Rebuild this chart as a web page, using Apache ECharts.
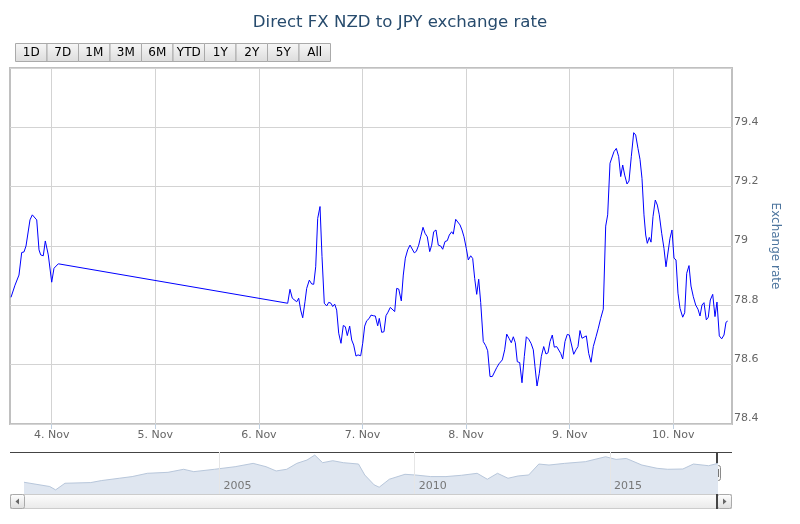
<!DOCTYPE html>
<html><head><meta charset="utf-8">
<script src="https://cdn.jsdelivr.net/npm/echarts@6/dist/echarts.min.js"></script>
<style>html,body{margin:0;padding:0;background:#fff}#c{width:800px;height:524px}</style>
</head><body><div id="c"></div>
<script>
// ---------- data ----------
const titleText = 'Direct FX NZD to JPY exchange rate';
const yAxisTitle = 'Exchange rate';
const rangeButtons = ['1D', '7D', '1M', '3M', '6M', 'YTD', '1Y', '2Y', '5Y', 'All'];
// x values are hours after 4 Nov 00:00
const dayTicks = [0, 24, 48, 72, 96, 120, 144];
const dayLabels = ['4. Nov', '5. Nov', '6. Nov', '7. Nov', '8. Nov', '9. Nov', '10. Nov'];
const navYearTicks = [2005, 2010, 2015];
const navYearLabels = ['2005', '2010', '2015'];

const hours = [
  -9.43, -8.50, -8.11, -7.58, -6.95, -6.42, -5.95, -5.03, -4.49, -3.47,
  -2.94, -2.55, -1.95, -1.48, -0.79, 0, 0.53, 1.53,
  54.67, 55.20, 55.74, 56.20, 56.76, 57.22, 57.68, 58.15, 58.68, 59.07,
  59.68, 60.23, 60.70, 61.16, 61.62, 62.16, 62.62, 63.15, 63.71, 64.17,
  64.70, 65.10, 65.56, 66.02, 66.49, 67.02, 67.55, 68.02, 68.48, 69.03,
  69.50, 69.96, 70.49, 70.96, 71.58, 72.05, 72.51, 72.97, 73.51, 73.97,
  74.50, 74.97, 75.52, 75.89, 76.45, 76.98, 77.44, 77.91, 78.44, 78.90,
  79.46, 79.92, 80.39, 80.99, 81.45, 81.92, 82.47, 83.01, 83.47, 84.00,
  84.47, 85.02, 85.48, 86.02, 86.48, 87.01, 87.57, 88.03, 88.49, 89.03,
  89.56, 90.12, 90.58, 91.11, 91.64, 92.11, 92.66, 93.03, 93.59, 94.05,
  94.59, 95.05, 95.51, 96.05, 96.51, 97.07, 97.53, 97.99, 98.46, 98.92,
  99.38, 99.98, 100.54, 101.00, 101.54, 102.07, 102.53, 103.09, 103.62, 104.39,
  104.94, 105.41, 105.94, 106.47, 106.94, 107.40, 107.86, 108.42, 108.95, 109.48,
  109.95, 110.50, 111.04, 111.57, 111.96, 112.43, 112.96, 113.42, 113.98, 114.51,
  114.98, 115.44, 115.97, 116.43, 116.99, 117.45, 117.92, 118.38, 118.91, 119.44,
  119.91, 120.37, 120.93, 121.46, 121.92, 122.39, 122.85, 123.31, 123.85, 124.40,
  124.94, 125.47, 126.10, 126.63, 127.18, 127.78, 128.34, 128.80, 129.34, 129.80,
  130.26, 130.80, 131.35, 131.82, 132.28, 132.74, 133.28, 133.74, 134.27, 134.83,
  135.29, 135.82, 136.29, 136.75, 137.21, 137.61, 137.98, 138.44, 138.84, 139.30,
  139.83, 140.30, 140.76, 141.31, 141.84, 142.31, 142.77, 143.23, 143.70, 144.16,
  144.63, 145.09, 145.56, 146.18, 146.64, 147.11, 147.64, 148.10, 148.64, 149.19,
  149.72, 150.19, 150.65, 151.11, 151.65, 152.11, 152.57, 153.13, 153.66, 154.12,
  154.66, 155.21, 155.75, 156.21, 156.60
];
const rates = [
  78.827, 78.868, 78.863, 78.902, 78.978, 78.980, 79.000, 79.088, 79.105, 79.088,
  78.987, 78.970, 78.967, 79.017, 78.970, 78.878, 78.925, 78.940,
  78.807, 78.854, 78.824, 78.826, 78.812, 78.824, 78.784, 78.758, 78.812, 78.857,
  78.885, 78.872, 78.871, 78.930, 79.093, 79.133, 78.964, 78.807, 78.798, 78.810,
  78.807, 78.796, 78.804, 78.784, 78.706, 78.672, 78.732, 78.728, 78.698, 78.730,
  78.683, 78.666, 78.629, 78.633, 78.630, 78.672, 78.730, 78.748, 78.755, 78.767,
  78.765, 78.764, 78.731, 78.756, 78.709, 78.711, 78.765, 78.777, 78.793, 78.796,
  78.779, 78.857, 78.855, 78.815, 78.902, 78.959, 78.987, 79.003, 79.001, 78.977,
  78.982, 79.003, 79.031, 79.063, 79.043, 79.031, 78.981, 79.003, 79.048, 79.054,
  79.003, 79.000, 78.989, 79.015, 79.018, 79.037, 79.048, 79.040, 79.090, 79.088,
  79.071, 79.054, 79.031, 78.992, 78.953, 78.967, 78.958, 78.891, 78.837, 78.888,
  78.810, 78.678, 78.664, 78.647, 78.560, 78.560, 78.560, 78.590, 78.603, 78.616,
  78.650, 78.703, 78.689, 78.674, 78.694, 78.674, 78.610, 78.607, 78.539, 78.627,
  78.694, 78.686, 78.672, 78.650, 78.593, 78.528, 78.571, 78.627, 78.661, 78.636,
  78.640, 78.678, 78.700, 78.659, 78.661, 78.655, 78.638, 78.619, 78.678, 78.702,
  78.700, 78.697, 78.635, 78.650, 78.661, 78.715, 78.689, 78.694, 78.697, 78.638,
  78.608, 78.661, 78.694, 78.723, 78.756, 78.787, 79.067, 79.105, 79.279, 79.276,
  79.318, 79.329, 79.301, 79.234, 79.273, 79.239, 79.209, 79.219, 79.301, 79.382,
  79.374, 79.329, 79.292, 79.228, 79.105, 79.037, 79.009, 79.029, 79.013, 79.099,
  79.155, 79.138, 79.105, 79.043, 78.992, 78.930, 78.934, 79.026, 79.054, 78.959,
  78.953, 78.841, 78.790, 78.760, 78.775, 78.908, 78.934, 78.865, 78.829, 78.801,
  78.787, 78.764, 78.801, 78.809, 78.751, 78.760, 78.818, 78.837, 78.762, 78.811,
  78.697, 78.687, 78.700, 78.743, 78.747
];

const navYears = [
  1999.99, 2000.65, 2000.80, 2001.04, 2001.70, 2001.97, 2002.43, 2002.76, 2003.15, 2003.68,
  2004.08, 2004.34, 2004.87, 2005.40, 2005.86, 2006.19, 2006.45, 2006.72, 2006.98, 2007.24,
  2007.44, 2007.64, 2007.90, 2008.17, 2008.56, 2008.72, 2008.96, 2009.09, 2009.35, 2009.75,
  2010.01, 2010.41, 2010.80, 2011.20, 2011.60, 2011.86, 2012.12, 2012.39, 2012.65, 2012.92,
  2013.18, 2013.44, 2013.84, 2014.37, 2014.89, 2015.16, 2015.42, 2015.82, 2016.21, 2016.48,
  2016.87, 2017.14, 2017.53, 2017.77
];
const navRates = [
  53.0, 46.1, 40.7, 51.4, 52.5, 55.7, 59.5, 62.2, 67.5, 69.1,
  74.0, 70.2, 74.0, 78.2, 83.6, 78.2, 71.3, 74.0, 83.6, 89.0,
  97.0, 84.7, 87.9, 84.7, 82.5, 64.8, 48.8, 45.0, 57.9, 65.9,
  64.8, 62.2, 62.2, 64.3, 67.5, 57.9, 67.5, 59.5, 63.2, 64.8,
  82.5, 80.9, 83.6, 86.3, 94.3, 90.0, 91.6, 80.9, 75.6, 74.0,
  74.5, 82.5, 79.8, 83.6
];

// ---------- chart ----------
const FONT = 'DejaVu Sans';
const mainData = hours.map((h, i) => [h, rates[i]]);
const navData = navYears.map((y, i) => [y, navRates[i]]);

const grad = (a, b) => new echarts.graphic.LinearGradient(0, 0, 0, 1, [{offset: 0, color: a}, {offset: 1, color: b}]);

const buttonW = 31.5, buttonX0 = 15, buttonY = 43, buttonH = 18;
const buttonGraphics = rangeButtons.map((t, i) => ({
  type: 'group',
  children: [
    {type: 'rect', shape: {x: buttonX0 + i * buttonW + 0.5, y: buttonY + 0.5, width: buttonW, height: buttonH},
     style: {fill: grad('#f7f7f7', '#dcdcdc'), stroke: '#aaaaaa', lineWidth: 1}},
    {type: 'text', x: buttonX0 + i * buttonW + buttonW / 2 + 0.5, y: buttonY + buttonH / 2 + 1,
     style: {text: t, fill: '#000', font: '12px "' + FONT + '"', align: 'center', verticalAlign: 'middle'}}
  ]
}));

const navGraphics = [
  // scrollbar track
  {type: 'rect', shape: {x: 10.5, y: 494.5, width: 721, height: 14},
   style: {fill: grad('#fdfdfd', '#e9e9e9'), stroke: '#cccccc', lineWidth: 1}},
  // left button
  {type: 'rect', shape: {x: 10.5, y: 494.5, width: 14, height: 14, r: 2},
   style: {fill: grad('#ffffff', '#dddddd'), stroke: '#aaaaaa', lineWidth: 1}},
  {type: 'polygon', shape: {points: [[19, 498.5], [19, 504.5], [15.5, 501.5]]}, style: {fill: '#666'}},
  // right button
  {type: 'rect', shape: {x: 717.5, y: 494.5, width: 14, height: 14, r: 2},
   style: {fill: grad('#ffffff', '#dddddd'), stroke: '#aaaaaa', lineWidth: 1}},
  {type: 'polygon', shape: {points: [[723, 498.5], [723, 504.5], [726.5, 501.5]]}, style: {fill: '#666'}},
  // navigator outline
  {type: 'line', shape: {x1: 10, y1: 452.5, x2: 732, y2: 452.5}, style: {stroke: '#444', lineWidth: 1}},
  {type: 'line', shape: {x1: 717, y1: 452, x2: 717, y2: 509}, style: {stroke: '#444', lineWidth: 2}},
  // handle
  {type: 'rect', shape: {x: 713.5, y: 465.5, width: 7, height: 15, r: 2},
   style: {fill: '#f4f4f4', stroke: '#8a8a8a', lineWidth: 1}},
  {type: 'line', shape: {x1: 716.5, y1: 469, x2: 716.5, y2: 477}, style: {stroke: '#777', lineWidth: 1}},
  {type: 'line', shape: {x1: 718.5, y1: 469, x2: 718.5, y2: 477}, style: {stroke: '#777', lineWidth: 1}}
];

const chart = echarts.init(document.getElementById('c'), null, {renderer: 'canvas'});
chart.setOption({
  animation: false,
  backgroundColor: '#fff',
  textStyle: {fontFamily: FONT},
  title: {
    text: titleText, left: 'center', top: 9,
    textStyle: {fontFamily: FONT, fontSize: 16.6, fontWeight: 'normal', color: '#274b6d'}
  },
  grid: [
    {left: 10, top: 68, width: 722, height: 356, show: true, borderColor: '#C0C0C0', borderWidth: 2,
     backgroundColor: 'transparent', containLabel: false, outerBoundsMode: 'none'},
    {left: 24, top: 452, width: 694, height: 42, show: false, containLabel: false, outerBoundsMode: 'none'}
  ],
  xAxis: [
    {
      gridIndex: 0, type: 'value', min: -9.66, max: 157.6,
      axisLine: {show: false},
      axisTick: {show: true, customValues: dayTicks, length: 5, lineStyle: {color: '#C0D0E0'}},
      axisLabel: {customValues: dayTicks, color: '#666', fontSize: 11, margin: 6,
        formatter: v => dayLabels[dayTicks.indexOf(Math.round(v))] || ''},
      splitLine: {show: true, lineStyle: {color: '#D3D3D3', width: 1}}
    },
    {
      gridIndex: 1, type: 'value', min: 'dataMin', max: 'dataMax', z: 5,
      axisLine: {show: false},
      axisTick: {show: false, customValues: navYearTicks},
      axisLabel: {show: true, customValues: navYearTicks, inside: true, margin: 2, align: 'left',
        padding: [0, 0, 0, 4], color: '#777', fontSize: 11,
        formatter: v => navYearLabels[navYearTicks.indexOf(Math.round(v))] || ''},
      splitLine: {show: true, lineStyle: {color: '#e6e6e6', width: 1}}
    }
  ],
  yAxis: [
    {
      gridIndex: 0, type: 'value', position: 'right', min: 78.4, max: 79.6, interval: 0.2,
      axisLine: {show: false},
      axisTick: {show: false},
      axisLabel: {color: '#666', fontSize: 11, margin: 2, verticalAlign: 'bottom',
        formatter: v => v > 79.5 ? '' : String(Math.round(v * 10) / 10)},
      splitLine: {show: true, lineStyle: {color: '#D3D3D3', width: 1}},
      name: yAxisTitle, nameLocation: 'middle', nameRotate: -90, nameGap: 33,
      nameTextStyle: {color: '#4d759e', fontSize: 12, fontFamily: FONT}
    },
    {
      gridIndex: 1, type: 'value', min: 34, max: 102, show: false,
      splitLine: {show: false}
    }
  ],
  series: [
    {
      type: 'line', xAxisIndex: 0, yAxisIndex: 0, data: mainData,
      showSymbol: false, symbol: 'none', smooth: false,
      lineStyle: {color: '#0000ff', width: 1}, clip: true
    },
    {
      type: 'line', xAxisIndex: 1, yAxisIndex: 1, data: navData, z: 1,
      showSymbol: false, symbol: 'none', smooth: false,
      lineStyle: {color: '#b8c7db', width: 1},
      areaStyle: {color: '#dfe6f0', opacity: 1, origin: 'start'}
    }
  ],
  graphic: [...buttonGraphics, ...navGraphics]
});
</script>
</body></html>
